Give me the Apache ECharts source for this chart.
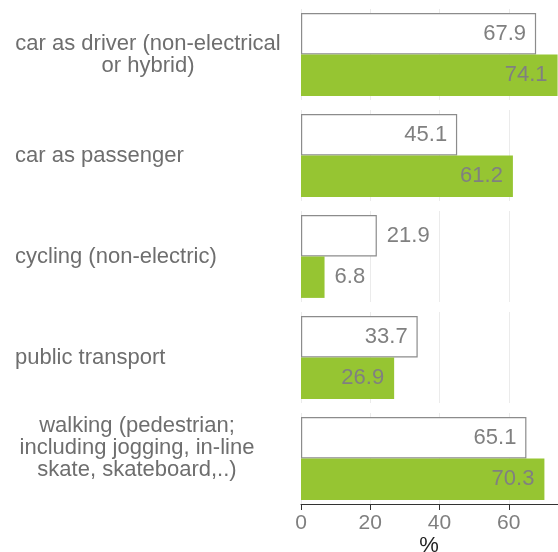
<!DOCTYPE html>
<html>
<head>
<meta charset="utf-8">
<script src="https://cdn.jsdelivr.net/npm/echarts@6/dist/echarts.min.js"></script>
<style>
html, body { margin: 0; padding: 0; background: #fff; }
#main { width: 558px; height: 552px; }
</style>
</head>
<body>
<div id="main"></div>
<script>
// data
var categories = [
    'car as driver (non-electrical\nor hybrid)',
    'car as passenger',
    'cycling (non-electric)',
    'public transport',
    'walking (pedestrian;\nincluding jogging, in-line\nskate, skateboard,..)'
];
var outlineValues = [67.9, 45.1, 21.9, 33.7, 65.1];
var greenValues = [74.1, 61.2, 6.8, 26.9, 70.3];
var xTicks = [0, 20, 40, 60, 80];
var axisName = '%';

// layout of the five panels
var panelTop = [9, 110, 211, 312, 413];
var panelHeight = 91;
var labelAlign = ['center', 'left', 'left', 'left', 'center'];
var labelMargin = [153, 286, 286, 286, 164];
var labelShift = [0, 0, 0, 0, 11];   // move label up (px)

var font = 'Liberation Sans, Arial, sans-serif';
var myChart = echarts.init(document.getElementById('main'));

function barItem(v) {
    return { value: v, label: { position: v < 25 ? 'right' : 'insideRight' } };
}

var grids = [], xAxes = [], yAxes = [], series = [];
var last = categories.length - 1;

categories.forEach(function (cat, i) {
    grids.push({
        left: 301, right: -20, top: panelTop[i], height: panelHeight,
        containLabel: false, outerBoundsMode: 'none'
    });
    var isBottom = i === last;
    xAxes.push({
        type: 'value', gridIndex: i,
        min: xTicks[0], max: xTicks[xTicks.length - 1],
        interval: xTicks[1] - xTicks[0],
        splitLine: { show: true, lineStyle: { color: '#ebebeb', width: 1 } },
        axisLine: { show: isBottom, onZero: false, lineStyle: { color: '#333', width: 1 } },
        axisTick: { show: isBottom, length: 6, lineStyle: { color: '#333' } },
        axisLabel: {
            show: isBottom, margin: 9, showMaxLabel: false,
            fontSize: 21, color: '#7f7f7f', fontFamily: font
        },
        name: isBottom ? axisName : '',
        nameLocation: 'middle', nameGap: 31,
        nameTextStyle: { fontSize: 22, color: '#222', fontFamily: font, padding: [0, 21, 0, 0] }
    });
    var shift = labelShift[i];
    yAxes.push({
        type: 'category', gridIndex: i, inverse: true,
        data: [cat],
        axisLine: { show: false },
        axisTick: { show: false },
        axisLabel: {
            align: labelAlign[i], margin: labelMargin[i],
            formatter: function (v) {
                var txt = v.split('\n').map(function (l) { return '{t|' + l + '}'; }).join('\n');
                return shift ? txt + '\n{s| }' : txt;
            },
            rich: {
                t: { fontSize: 22, lineHeight: 22, color: '#6e6e6e', fontFamily: font },
                s: { fontSize: 2, lineHeight: shift * 2 }
            }
        }
    });
    var labelStyle = {
        show: true, distance: 10, fontSize: 22, color: '#808080', fontFamily: font
    };
    series.push({
        type: 'bar', xAxisIndex: i, yAxisIndex: i,
        barGap: 0, barCategoryGap: '9%',
        itemStyle: { color: '#ffffff', borderColor: '#8c8c8c', borderWidth: 1.2 },
        label: labelStyle,
        data: [barItem(outlineValues[i])]
    });
    series.push({
        type: 'bar', xAxisIndex: i, yAxisIndex: i,
        barGap: 0, barCategoryGap: '9%',
        itemStyle: { color: '#96c532' },
        label: labelStyle,
        data: [barItem(greenValues[i])]
    });
});

var option = {
    animation: false,
    grid: grids,
    xAxis: xAxes,
    yAxis: yAxes,
    series: series
};
myChart.setOption(option);
</script>
</body>
</html>
